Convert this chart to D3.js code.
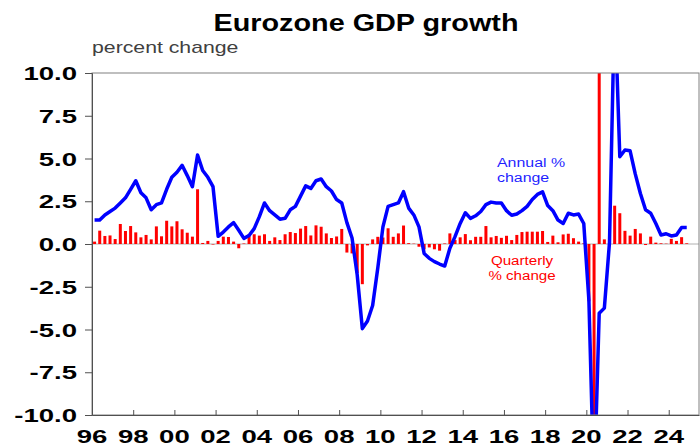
<!DOCTYPE html>
<html>
<head>
<meta charset="utf-8">
<script src="https://cdn.jsdelivr.net/npm/d3@7"></script>
<style>
  body { margin: 0; background: #fff; }
  text { font-family: Arial, "Liberation Sans", sans-serif; }
</style>
</head>
<body>
<div id="chart"></div>
<script>
var svgWidth = 700;
var svgHeight = 446;

var margin = {
  top: 73,
  right: 1,
  bottom: 31,
  left: 92
};

var width = svgWidth - margin.left - margin.right;
var height = svgHeight - margin.top - margin.bottom;

// quarterly data, 1996 Q1 to 2024 Q4
var firstYear = 1996;

var quarterlyChange = [
  0.14, 0.78, 0.47, 0.5, 0.29, 1.17, 0.76, 1.05, 0.68, 0.39,
  0.53, 0.27, 1.03, 0.45, 1.36, 1.03, 1.33, 0.86, 0.66, 0.43,
  3.2, 0.06, 0.18, -0.03, 0.18, 0.43, 0.41, 0.14, -0.25, 0.03,
  0.58, 0.57, 0.49, 0.57, 0.18, 0.39, 0.23, 0.57, 0.7, 0.64,
  0.9, 1.05, 0.5, 1.09, 1.01, 0.62, 0.35, 0.44, 0.88, -0.5,
  -0.55, -1.7, -2.35, -0.08, 0.27, 0.42, 0.38, 0.92, 0.42, 0.62,
  1.08, 0.05, 0.02, -0.16, -0.31, -0.2, -0.31, -0.39, 0.03, 0.62,
  0.23, 0.39, 0.58, 0.22, 0.42, 0.42, 1.05, 0.39, 0.47, 0.36,
  0.48, 0.23, 0.53, 0.7, 0.72, 0.72, 0.72, 0.76, 0.12, 0.49,
  0.1, 0.56, 0.6, 0.34, 0.14, 0.04, -3.35, -11.6, 12.4, 0.27,
  0.55, 2.24, 1.8, 0.77, 0.49, 0.88, 0.62, -0.06, 0.43, 0.08,
  0.04, 0.02, 0.3, 0.18, 0.4, 0.04
];

var annualChange = [
  1.4, 1.4, 1.7, 1.9, 2.1, 2.4, 2.7, 3.2, 3.7, 3.0,
  2.7, 2.0, 2.3, 2.4, 3.2, 3.9, 4.2, 4.6, 4.0, 3.35,
  5.2, 4.3, 3.9, 3.35, 0.45, 0.7, 1.0, 1.25, 0.8, 0.33,
  0.5, 0.9, 1.6, 2.4, 1.95, 1.7, 1.45, 1.5, 2.0, 2.2,
  2.8, 3.4, 3.25, 3.7, 3.8, 3.35, 3.1, 2.6, 2.4, 1.25,
  0.35, -1.8, -4.95, -4.5, -3.6, -1.4, 1.0, 2.2, 2.3, 2.4,
  3.06, 2.1, 1.7, 1.0, -0.55, -0.84, -1.03, -1.17, -1.29, -0.25,
  0.43, 1.2, 1.83, 1.5, 1.65, 1.9, 2.3, 2.45, 2.4, 2.4,
  1.95, 1.68, 1.75, 1.95, 2.2, 2.6, 2.9, 3.05, 2.25, 1.95,
  1.4, 1.2, 1.8, 1.7, 1.75, 1.2, -3.3, -14.5, -4.05, -3.75,
  0.1, 14.2, 5.1, 5.5, 5.45, 4.1, 2.95, 2.0, 1.8, 1.2,
  0.53, 0.6, 0.47, 0.53, 0.97, 0.97
];

var xTickYears = [1996, 1998, 2000, 2002, 2004, 2006, 2008, 2010, 2012, 2014, 2016, 2018, 2020, 2022, 2024];
var xTickLabels = ["96", "98", "00", "02", "04", "06", "08", "10", "12", "14", "16", "18", "20", "22", "24"];
var yTicks = [10, 7.5, 5, 2.5, 0, -2.5, -5, -7.5, -10];
var yTickLabels = ["10.0", "7.5", "5.0", "2.5", "0.0", "-2.5", "-5.0", "-7.5", "-10.0"];

// mid-quarter position of each observation, in decimal years
var quarters = quarterlyChange.map((d, i) => firstYear + (i + 0.5) / 4);

var svg = d3.select("#chart")
  .append("svg")
  .attr("width", svgWidth)
  .attr("height", svgHeight);

var chartGroup = svg.append("g")
  .attr("transform", `translate(${margin.left}, ${margin.top})`);

var xScale = d3.scaleLinear()
  .domain([1996, 2025.47])
  .range([0, width]);

var yScale = d3.scaleLinear()
  .domain([-10, 10])
  .range([height, 0]);

// the source picture is stretched sideways, so the text is too
function stretchedText(g, x, y, str, size, weight, anchor, sx, fill) {
  return g.append("text")
    .attr("transform", `translate(${x}, ${y}) scale(${sx}, 1)`)
    .attr("text-anchor", anchor)
    .attr("font-size", size)
    .attr("font-weight", weight)
    .attr("fill", fill)
    .text(str);
}

svg.append("defs").append("clipPath")
  .attr("id", "plot-clip")
  .append("rect")
  .attr("width", width)
  .attr("height", height);

// zero line
chartGroup.append("line")
  .attr("x1", 0)
  .attr("x2", width)
  .attr("y1", yScale(0))
  .attr("y2", yScale(0))
  .attr("stroke", "#b0b0b0")
  .attr("stroke-width", 1);

var plot = chartGroup.append("g")
  .attr("clip-path", "url(#plot-clip)");

// quarterly bars
var barWidth = 3;
plot.selectAll("rect.bar")
  .data(quarterlyChange)
  .enter()
  .append("rect")
  .attr("class", "bar")
  .attr("x", (d, i) => xScale(quarters[i]) - barWidth / 2)
  .attr("y", d => yScale(Math.max(0, d)))
  .attr("width", barWidth)
  .attr("height", d => Math.abs(yScale(d) - yScale(0)))
  .attr("fill", "#ff0000");

// annual line
var line = d3.line()
  .x((d, i) => xScale(quarters[i]))
  .y(d => yScale(d));

plot.append("path")
  .datum(annualChange)
  .attr("d", line)
  .attr("fill", "none")
  .attr("stroke", "#0000ff")
  .attr("stroke-width", 3.5)
  .attr("stroke-linejoin", "round");

// frame
chartGroup.append("rect")
  .attr("width", width)
  .attr("height", height)
  .attr("fill", "none")
  .attr("stroke", "#808080")
  .attr("stroke-width", 1);

// y axis
var leftAxis = d3.axisLeft(yScale)
  .tickValues(yTicks)
  .tickSize(7)
  .tickFormat("");

var yAxis = chartGroup.append("g")
  .call(leftAxis);
yAxis.select(".domain").attr("stroke", "#505050");
yAxis.selectAll(".tick line").attr("stroke", "#505050");

yTicks.forEach(function(t, i) {
  stretchedText(chartGroup, -15, yScale(t) + 7, yTickLabels[i], 19, "bold", "end", 1.45, "#000");
});

// x axis, ticks point inward
var bottomAxis = d3.axisBottom(xScale)
  .tickValues(xTickYears)
  .tickSizeInner(-5)
  .tickSizeOuter(0)
  .tickFormat("");

var xAxis = chartGroup.append("g")
  .attr("transform", `translate(0, ${height})`)
  .call(bottomAxis);
xAxis.select(".domain").attr("stroke", "#505050");
xAxis.selectAll(".tick line").attr("stroke", "#505050");

xTickYears.forEach(function(t, i) {
  stretchedText(chartGroup, xScale(t), height + 28, xTickLabels[i], 19, "bold", "middle", 1.45, "#000");
});

// titles
stretchedText(svg, 366, 31, "Eurozone GDP growth", 24, "bold", "middle", 1.2, "#000");
stretchedText(svg, 92, 53, "percent change", 17, "normal", "start", 1.25, "#404040");

// series labels
stretchedText(svg, 497, 167, "Annual %", 13.5, "normal", "start", 1.18, "#1f1fff");
stretchedText(svg, 497, 182, "change", 13.5, "normal", "start", 1.18, "#1f1fff");
stretchedText(svg, 522, 265, "Quarterly", 13.5, "normal", "middle", 1.12, "#ff0000");
stretchedText(svg, 522, 280, "% change", 13.5, "normal", "middle", 1.12, "#ff0000");
</script>
</body>
</html>
